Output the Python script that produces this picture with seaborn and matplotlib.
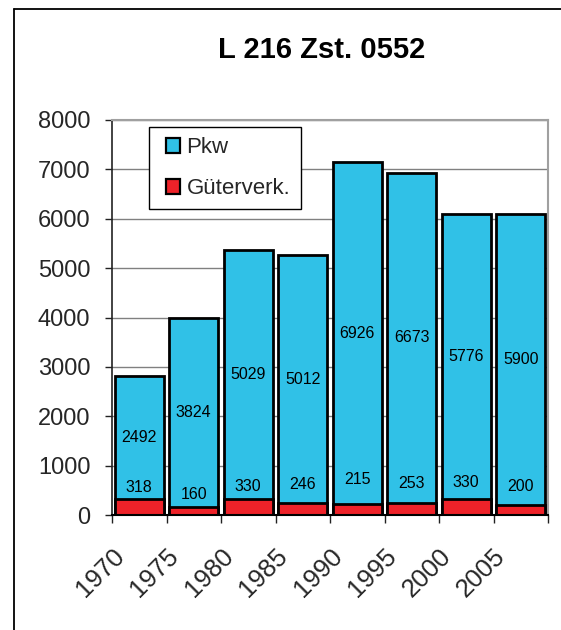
import matplotlib
matplotlib.use("Agg")
import matplotlib.pyplot as plt
import matplotlib.transforms as mtransforms
from matplotlib.patches import Patch, Rectangle
from matplotlib.lines import Line2D
import seaborn as sns
import pandas as pd

# ---- data ----
years = ["1970", "1975", "1980", "1985", "1990", "1995", "2000", "2005"]
pkw = [2492, 3824, 5029, 5012, 6926, 6673, 5776, 5900]
gueterverk = [318, 160, 330, 246, 215, 253, 330, 200]
title = "L 216 Zst. 0552"
series_names = ["Pkw", "Güterverk."]

# label heights for Güterverk values (as placed in the original)
gv_label_y = [561, 419, 573, 621, 709, 642, 668, 573]

CYAN = "#30C1E7"
RED = "#EE2229"

sns.set_theme(style="white")
plt.rcParams["font.family"] = ["Liberation Sans", "DejaVu Sans"]

df = pd.DataFrame({
    "year": years,
    "pkw": pkw,
    "gv": gueterverk,
})
df["total"] = df["pkw"] + df["gv"]

W, H = 561, 630
fig = plt.figure(figsize=(W / 100, H / 100), dpi=100)
fig.patch.set_facecolor("white")
ax = fig.add_axes([112 / W, 1 - 515 / H, (548 - 112) / W, (515 - 120) / H])
ax.set_facecolor("white")

sns.barplot(data=df, x="year", y="total", color=CYAN, width=0.9,
            edgecolor="black", linewidth=2.0, ax=ax, zorder=3, saturation=1)
sns.barplot(data=df, x="year", y="gv", color=RED, width=0.9,
            edgecolor="black", linewidth=2.0, ax=ax, zorder=4, saturation=1)

# value labels
for i in range(len(years)):
    ax.text(i, df["gv"][i] + df["pkw"][i] / 2, str(df["pkw"][i]),
            ha="center", va="center", fontsize=11.5, color="black", zorder=5)
    ax.text(i, gv_label_y[i], str(df["gv"][i]),
            ha="center", va="center", fontsize=11.5, color="black", zorder=5)

ax.set_xlim(-0.5, len(years) - 0.5)
ax.set_ylim(0, 8000)
ax.set_yticks(range(0, 8001, 1000))
ax.set_yticklabels([str(v) for v in range(0, 8001, 1000)], fontsize=17)
ax.set_xlabel("")
ax.set_ylabel("")

# grid
ax.yaxis.grid(True, color="#808080", linewidth=1.0, zorder=0)
ax.xaxis.grid(False)
ax.set_axisbelow(True)

# spines
for s in ["top", "right"]:
    ax.spines[s].set_color("#A0A0A0")
    ax.spines[s].set_linewidth(1.5)
ax.spines["left"].set_color("#222222")
ax.spines["left"].set_linewidth(1.2)
ax.spines["bottom"].set_color("black")
ax.spines["bottom"].set_linewidth(1.5)
ax.spines["bottom"].set_zorder(6)

ax.tick_params(axis="y", which="major", direction="out", length=5, width=1,
               color="#222222", pad=10.5, left=True)
# x: labels at centres, ticks at boundaries
ax.set_xticks(range(len(years)))
ax.set_xticklabels(years, fontsize=18.5, rotation=45, ha="right", va="center",
                   rotation_mode="anchor")
ax.tick_params(axis="x", which="major", length=0, pad=27)
ax.set_xticks([i - 0.5 for i in range(len(years) + 1)], minor=True)
ax.tick_params(axis="x", which="minor", direction="out", length=6, width=1,
               color="#222222", bottom=True)

offset = mtransforms.ScaledTranslation(-19 / 100, 0, fig.dpi_scale_trans)
for lbl in ax.get_xticklabels():
    lbl.set_transform(lbl.get_transform() + offset)

# legend box (drawn separately for exact padding)
box = Rectangle((149 / W, 1 - 209 / H), (301 - 149) / W, (209 - 127) / H,
                transform=fig.transFigure, facecolor="white", edgecolor="black",
                linewidth=1.0, zorder=8)
fig.add_artist(box)

handles = [Patch(facecolor=CYAN, edgecolor="black", linewidth=1.6, label=series_names[0]),
           Patch(facecolor=RED, edgecolor="black", linewidth=1.6, label=series_names[1])]
leg = fig.legend(handles=handles, loc="center left",
                 bbox_to_anchor=(166 / W, 1 - 168.5 / H), bbox_transform=fig.transFigure,
                 fontsize=16, frameon=False,
                 handlelength=0.62, handleheight=0.62, handletextpad=0.3,
                 labelspacing=0.9, borderpad=0, borderaxespad=0)
leg.set_zorder(10)

# title
fig.text(322 / W, 1 - 50 / H, title, ha="center", va="center",
         fontsize=21, fontweight="bold", color="black")

# figure frame (left and top lines)
fig.add_artist(Line2D([13.5 / W, 13.5 / W], [0, 1 - 8.5 / H], transform=fig.transFigure,
                      color="black", linewidth=1.3))
fig.add_artist(Line2D([13.5 / W, 1], [1 - 8.5 / H, 1 - 8.5 / H], transform=fig.transFigure,
                      color="black", linewidth=1.3))

fig.savefig("out.png", dpi=100, facecolor="white")
